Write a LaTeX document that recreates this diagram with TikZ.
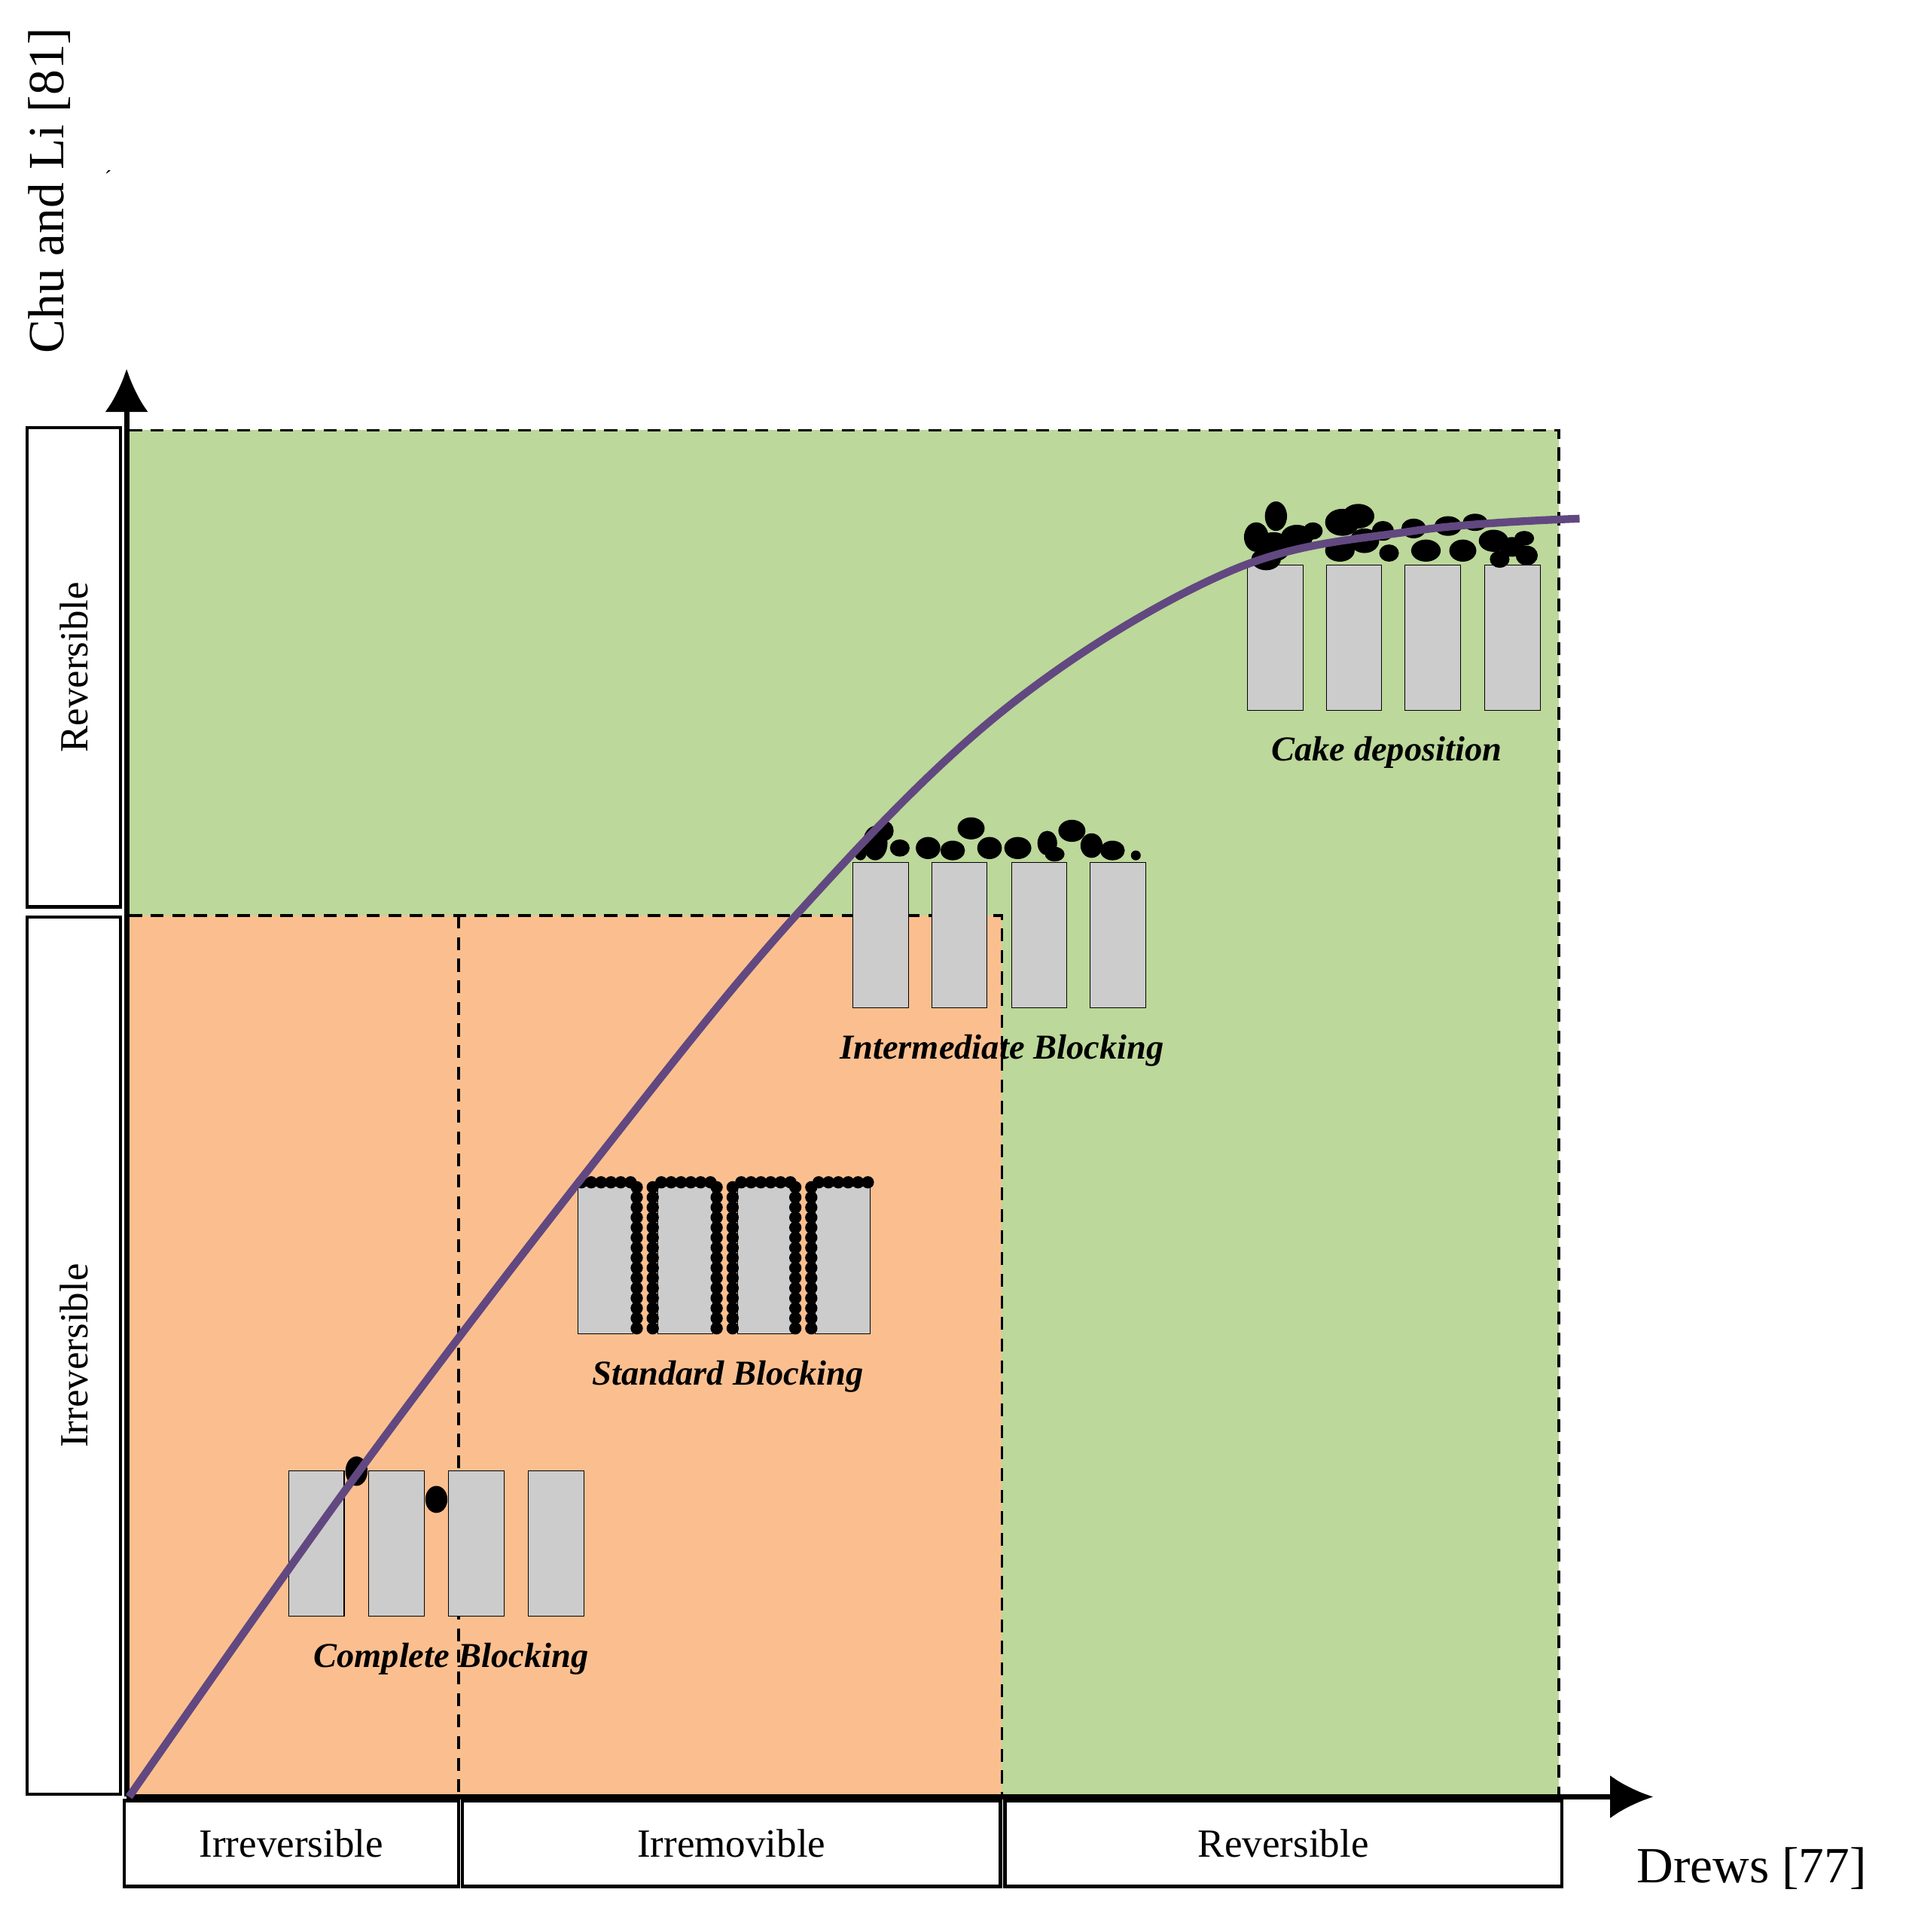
\documentclass[tikz,border=0pt]{standalone}
\usepackage{fontspec}
\setmainfont{Liberation Serif}
\usetikzlibrary{arrows.meta}
\definecolor{gr}{RGB}{188,216,154}
\definecolor{orc}{RGB}{251,191,143}
\definecolor{pur}{RGB}{98,72,128}
\definecolor{pore}{RGB}{204,204,204}
\begin{document}
\begin{tikzpicture}[x=0.02cm,y=-0.02cm,
  box/.style={draw,line width=1.6pt,inner sep=0,font=\fontsize{18.5}{18.5}\selectfont},
  dsh/.style={line width=1.2pt,dash pattern=on 6pt off 4pt},
  lab/.style={font=\fontsize{16.2}{16.2}\selectfont\bfseries\itshape},
  ax/.style={font=\fontsize{18.5}{18.5}\selectfont},
  pr/.style={fill=pore,draw=black,line width=0.4pt},
  p/.style={fill=black}]
\useasboundingbox (0,0) rectangle (1550,1572);
\fill[gr] (105,350) rectangle (1268,1460);
\fill[orc] (105,745) rectangle (815,1460);
\draw[dsh] (105,350) -- (1268,350) -- (1268,1460);
\draw[dsh] (105,745) -- (815,745) -- (815,1460);
\draw[dsh] (373,745) -- (373,1460);
% axes
\coordinate (o) at (103,1462);
\coordinate (yt) at (103,300);
\coordinate (xt) at (1345,1462);
\draw[line width=2.4pt,-{Latex[length=20pt,width=20pt]}] (o) -- (yt);
\draw[line width=2.4pt,-{Latex[length=20pt,width=20pt]}] (o) -- (xt);
% side boxes
\node[box,minimum width=1.52cm,minimum height=7.8cm] (lr) at (60,543) {};
\node[ax,rotate=90] (lrt) at (lr) {Reversible};
\node[box,minimum width=1.52cm,minimum height=14.28cm] (li) at (60,1103) {};
\node[ax,rotate=90] (lit) at (li) {Irreversible};
\node[box,minimum width=5.44cm,minimum height=1.4cm] (b1) at (237,1500) {Irreversible};
\node[box,minimum width=8.76cm,minimum height=1.4cm] (b2) at (595,1500) {Irremovible};
\node[box,minimum width=9.06cm,minimum height=1.4cm] (b3) at (1044,1500) {Reversible};
\node[font=\fontsize{23.5}{23.5}\selectfont,rotate=90] (cl) at (40,155) {Chu and Li [81]};
\node[font=\fontsize{10}{10}\selectfont] (tk) at (88,145) {´};
\node[font=\fontsize{23.5}{23.5}\selectfont] (dr) at (1425,1520) {Drews [77]};
% pores
\foreach \x in {235,300,365,430}{\draw[pr] (\x,1197) rectangle ++(45,118);}
\foreach \x in {470,535,600,663}{\draw[pr] (\x,965) rectangle ++(45,120);}
\foreach \x in {694,758,823,887}{\draw[pr] (\x,702) rectangle ++(45,118);}
\foreach \x in {1015,1079,1143,1208}{\draw[pr] (\x,460) rectangle ++(45,118);}
% complete blocking particles
\fill[p] (290,1197) ellipse [x radius=9, y radius=12];
\fill[p] (355,1220) ellipse [x radius=9, y radius=11];
% standard blocking dots
\foreach \x in {470,535,600,663}{
  \foreach \i in {0,...,5}{\fill[p] (\x+3+\i*8,962) circle (5);}}
\foreach \x in {518,531,583,596,647,660}{
  \foreach \i in {0,...,14}{\fill[p] (\x,966+\i*8.2) circle (5);}}
% intermediate particles
\foreach \pa/\pb/\ra/\rb in {712/686/10/14,720/676/7/8,732/690/8/7,755/690/10/9,775/692/10/8,790/674/11/9,805/690/10/9,828/690/11/9,852/686/8/10,858/695/8/6,872/676/11/9,888/688/9/10,905/692/10/8,924/696/4/4,700/694/5/6}
  {\fill[p] (\pa,\pb) ellipse [x radius=\ra, y radius=\rb];}
% cake particles
\foreach \pa/\pb/\ra/\rb in {1022/437/10/12,1038/420/9/12,1036/445/14/12,1055/437/13/10,1030/455/12/9,1068/432/8/7,1092/425/14/11,1105/420/13/10,1090/448/12/9,1110/440/12/10,1125/432/9/8,1130/450/8/7,1150/430/10/8,1160/448/12/9,1178/428/11/8,1200/425/10/7,1190/448/11/9,1215/440/12/9,1230/445/10/8,1242/452/9/8,1220/455/8/7,1240/438/8/6}
  {\fill[p] (\pa,\pb) ellipse [x radius=\ra, y radius=\rb];}
% curve
\draw[pur,line width=3.6pt] plot[smooth,tension=0.6] coordinates
 {(105,1462) (290,1200) (480,950) (650,742) (820,575) (1000,465) (1150,432) (1285,422)};
% labels
\node[lab] (cb) at (367,1350) {Complete Blocking};
\node[lab] (sb) at (592,1120) {Standard Blocking};
\node[lab] (ib) at (815,855) {Intermediate Blocking};
\node[lab] (cd) at (1128,612) {Cake deposition};
\end{tikzpicture}
\end{document}
